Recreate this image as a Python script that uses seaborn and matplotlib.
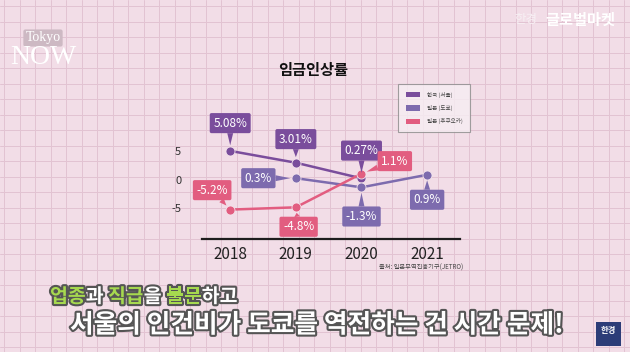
import numpy as np
import pandas as pd
import matplotlib
matplotlib.use("Agg")
import matplotlib.pyplot as plt
import matplotlib.patheffects as pe
from matplotlib.patches import Patch, Rectangle
import seaborn as sns

# data (JETRO wage growth, %)
years = [2018, 2019, 2020, 2021]
regions = ["한국 (서울)", "일본 (도쿄)", "일본 (후쿠오카)"]
seoul = [5.08, 3.01, 0.27, None]
tokyo = [None, 0.3, -1.3, 0.9]
fukuoka = [-5.2, -4.8, 1.1, None]
yticks = [5, 0, -5]

colors = {"한국 (서울)": "#7A4D9C", "일본 (도쿄)": "#7D6BAE", "일본 (후쿠오카)": "#E25D80"}

rows = []
for name, vals in zip(regions, [seoul, tokyo, fukuoka]):
    for yr, v in zip(years, vals):
        if v is not None:
            rows.append({"year": yr, "rate": v, "region": name})
df = pd.DataFrame(rows)

sns.set_theme(style="white")
plt.rcParams["font.family"] = ["Noto Sans CJK KR", "DejaVu Sans"]

fig = plt.figure(figsize=(6.3, 3.52), dpi=100)
fig.patch.set_facecolor("#F2DDE7")

# pink graph-paper background
bg = fig.add_axes([0, 0, 1, 1], zorder=-5)
bg.set_xlim(0, 630)
bg.set_ylim(352, 0)
bg.axis("off")
for gx in np.arange(4, 630, 15.5):
    bg.axvline(gx, color="#E2C3D2", lw=0.7)
for gy in np.arange(6, 352, 15.5):
    bg.axhline(gy, color="#E2C3D2", lw=0.7)

ax = fig.add_axes([0.3206, 0.321, 0.4095, 0.395])
ax.set_facecolor("none")
sns.lineplot(data=df, x="year", y="rate", hue="region", hue_order=regions,
             palette=colors, marker="o", markersize=6.5, linewidth=1.8,
             markeredgecolor="#F4E4EC", markeredgewidth=0.6, ax=ax, legend=False)

ax.set_xlim(2017.57, 2021.5)
ax.set_ylim(-10.35, 14.0)
ax.set_xticks(years)
ax.set_xticklabels([str(y) for y in years], fontsize=11, color="#222222")
ax.set_yticks(yticks)
ax.set_yticklabels([str(t) for t in yticks], fontsize=8, color="#333333")
ax.tick_params(axis="x", length=0, pad=5)
ax.tick_params(axis="y", length=0, pad=15)
ax.set_xlabel("")
ax.set_ylabel("")
for s in ["top", "right", "left"]:
    ax.spines[s].set_visible(False)
ax.spines["bottom"].set_color("#1E1E1E")
ax.spines["bottom"].set_linewidth(1.6)

# callout boxes: (region, year, value, offset in points)
labels = [
    ("한국 (서울)", 2018, 5.08, (0, 20)),
    ("한국 (서울)", 2019, 3.01, (0, 17)),
    ("한국 (서울)", 2020, 0.27, (0, 20)),
    ("일본 (도쿄)", 2019, 0.3, (-27, 0)),
    ("일본 (도쿄)", 2020, -1.3, (0, -21)),
    ("일본 (도쿄)", 2021, 0.9, (0, -18)),
    ("일본 (후쿠오카)", 2018, -5.2, (-13, 14)),
    ("일본 (후쿠오카)", 2019, -4.8, (2, -14)),
    ("일본 (후쿠오카)", 2020, 1.1, (24, 9)),
]
for reg, yr, v, off in labels:
    c = colors[reg]
    ax.annotate(f"{v:g}%", xy=(yr, v), xytext=off, textcoords="offset points",
                ha="center", va="center", fontsize=8.5, color="white",
                bbox=dict(boxstyle="round,pad=0.3,rounding_size=0.15", fc=c, ec="none"),
                arrowprops=dict(arrowstyle="wedge,tail_width=0.5,shrink_factor=0.5",
                                fc=c, ec="none", shrinkA=0, shrinkB=4),
                zorder=5)

handles = [Patch(facecolor=colors[r], edgecolor="none", label=r) for r in regions]
leg = fig.legend(handles=handles, loc="upper left", bbox_to_anchor=(0.627, 0.770),
                 fontsize=4, frameon=True, handlelength=2.6, handleheight=1.1,
                 labelspacing=1.3, borderpad=1.4, handletextpad=1.2)
leg.get_frame().set_facecolor("#F7EEF3")
leg.get_frame().set_edgecolor("#8A8A8A")
leg.get_frame().set_linewidth(0.8)
leg.get_frame().set_boxstyle("square,pad=0")
for t in leg.get_texts():
    t.set_color("#444444")

fig.text(313 / 630, 1 - 70 / 352, "임금인상률", ha="center", va="center",
         fontsize=11, fontweight="bold", color="#111111")
fig.text(463 / 630, 1 - 268 / 352, "출처: 일본무역진흥기구(JETRO)", ha="right",
         va="center", fontsize=4.5, color="#444444")

# channel decorations
fig.text(43 / 630, 1 - 38 / 352, "Tokyo", ha="center", va="center", fontsize=10,
         family="Liberation Serif", color="white",
         bbox=dict(boxstyle="round,pad=0.15", fc="#CDB9C3", ec="none"))
fig.text(43 / 630, 1 - 57 / 352, "NOW", ha="center", va="center", fontsize=20,
         family="Liberation Serif", color="white")
fig.text(526 / 630, 1 - 20 / 352, "한경", ha="center", va="center", fontsize=9,
         color="#F7F0F4")
fig.text(580 / 630, 1 - 20 / 352, "글로벌마켓", ha="center", va="center", fontsize=11,
         fontweight="bold", color="white")

# subtitle captions, first line laid out piece by piece
stroke = [pe.withStroke(linewidth=3, foreground="#555555")]
renderer = fig.canvas.get_renderer()
pieces = [("업종", True), ("과 ", False), ("직급", True), ("을 ", False),
          ("불문", True), ("하고", False)]
px = 50
for txt, hl in pieces:
    t = fig.text(px / 630, 1 - 297 / 352, txt, ha="left", va="center", fontsize=14,
                 fontweight="bold", color="#A6D94F" if hl else "white",
                 path_effects=stroke)
    px += t.get_window_extent(renderer).width
fig.text(70 / 630, 1 - 325 / 352, "서울의 인건비가 도쿄를 역전하는 건 시간 문제!",
         ha="left", va="center", fontsize=18.5, fontweight="bold", color="white",
         path_effects=stroke)

fig.patches.append(Rectangle((596 / 630, 1 - 346 / 352), 25 / 630, 24 / 352,
                             transform=fig.transFigure, fc="#2C3D78", ec="none"))
fig.text(608.5 / 630, 1 - 331 / 352, "한경", ha="center", va="center", fontsize=6,
         fontweight="bold", color="white")

fig.savefig("out.png", dpi=100, facecolor=fig.get_facecolor())
